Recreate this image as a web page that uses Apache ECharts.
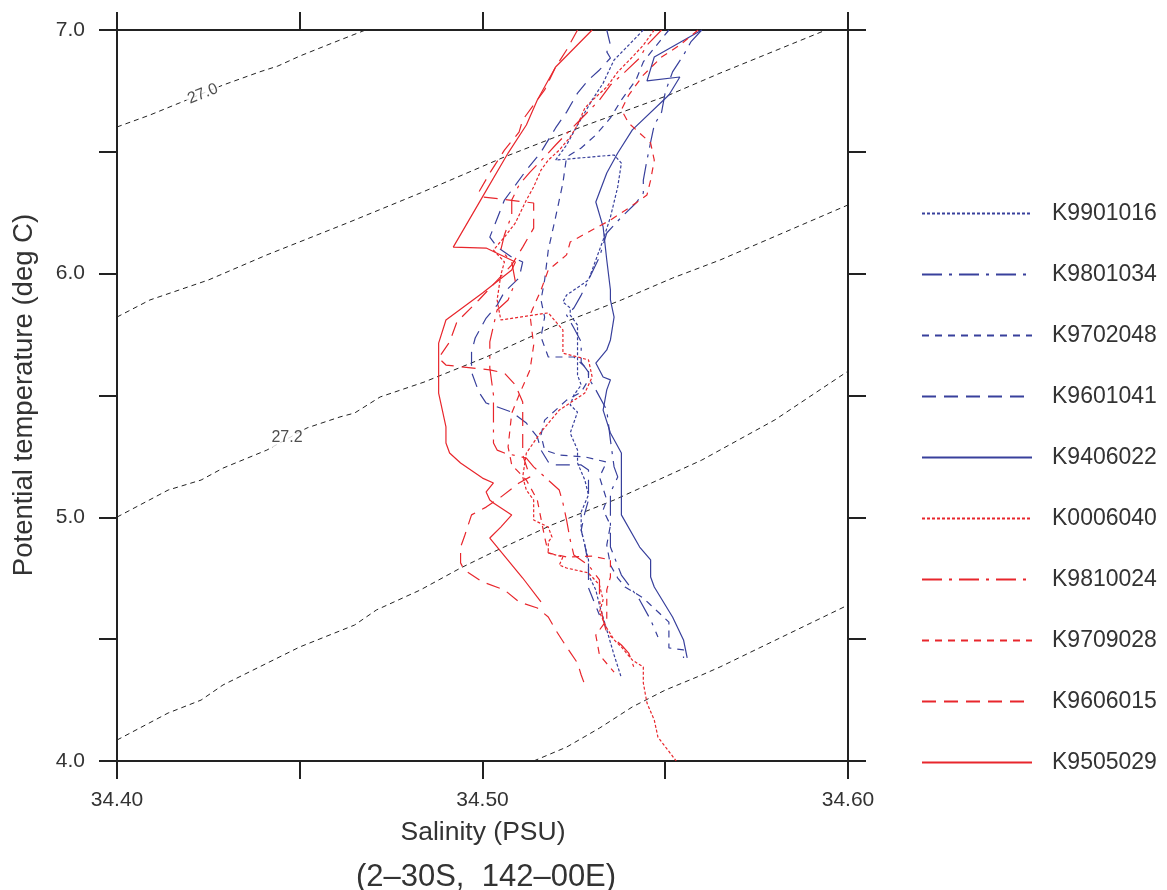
<!DOCTYPE html>
<html><head><meta charset="utf-8">
<script src="https://cdn.jsdelivr.net/npm/echarts@6/dist/echarts.min.js"></script>
<style>html,body{margin:0;padding:0;background:#fff}#c{width:1167px;height:890px}</style>
</head><body><div id="c"></div>
<script>
// ---- data: salinity (PSU), potential temperature (deg C) ----
const stationNames = ['K9901016','K9801034','K9702048','K9601041','K9406022','K0006040','K9810024','K9709028','K9606015','K9505029'];

const k9901016 = [[34.544,7.000],[34.540,6.938],[34.536,6.877],[34.533,6.782],[34.530,6.713],[34.526,6.610],[34.523,6.528],[34.520,6.466],[34.536,6.487],[34.538,6.454],[34.537,6.356],[34.535,6.232],[34.533,6.138],[34.531,6.056],[34.529,5.974],[34.523,5.912],[34.522,5.884],[34.524,5.859],[34.524,5.830],[34.526,5.789],[34.526,5.736],[34.526,5.666],[34.526,5.584],[34.527,5.543],[34.525,5.502],[34.524,5.461],[34.526,5.432],[34.524,5.346],[34.526,5.276],[34.526,5.223],[34.528,5.153],[34.529,5.092],[34.527,5.022],[34.527,4.948],[34.528,4.886],[34.529,4.825],[34.529,4.763],[34.531,4.702],[34.532,4.640],[34.534,4.538],[34.536,4.435],[34.538,4.341]];
const k9801034 = [[34.560,7.000],[34.557,6.951],[34.555,6.897],[34.552,6.828],[34.550,6.745],[34.549,6.663],[34.547,6.610],[34.546,6.540],[34.545,6.466],[34.544,6.384],[34.544,6.331],[34.542,6.290],[34.538,6.232],[34.534,6.167],[34.532,6.068],[34.529,5.974],[34.527,5.912],[34.525,5.859],[34.523,5.830],[34.525,5.777],[34.527,5.720],[34.527,5.637],[34.529,5.596],[34.529,5.572],[34.531,5.523],[34.534,5.440],[34.535,5.317],[34.536,5.207],[34.537,5.166],[34.535,5.100],[34.535,5.010],[34.535,4.878],[34.538,4.763],[34.541,4.702],[34.543,4.661],[34.546,4.579],[34.548,4.509]];
const k9702048 = [[34.551,7.000],[34.547,6.926],[34.544,6.869],[34.542,6.795],[34.538,6.713],[34.535,6.639],[34.531,6.569],[34.527,6.516],[34.523,6.479],[34.522,6.372],[34.520,6.232],[34.518,6.097],[34.517,5.974],[34.516,5.892],[34.517,5.822],[34.516,5.740],[34.518,5.658],[34.525,5.658],[34.529,5.605],[34.529,5.564],[34.527,5.514],[34.523,5.481],[34.520,5.440],[34.517,5.399],[34.516,5.338],[34.517,5.276],[34.521,5.256],[34.528,5.248],[34.534,5.227],[34.532,5.166],[34.534,5.071],[34.533,5.030],[34.535,4.968],[34.534,4.886],[34.535,4.804],[34.537,4.751],[34.539,4.714],[34.544,4.669],[34.546,4.640],[34.551,4.570],[34.551,4.464],[34.555,4.456],[34.555,4.423]];
const k9601041 = [[34.534,7.000],[34.535,6.938],[34.534,6.910],[34.535,6.885],[34.532,6.836],[34.529,6.795],[34.526,6.741],[34.523,6.663],[34.520,6.598],[34.516,6.499],[34.512,6.425],[34.506,6.302],[34.502,6.150],[34.504,6.109],[34.508,6.068],[34.511,6.048],[34.510,5.982],[34.506,5.925],[34.504,5.871],[34.501,5.818],[34.498,5.736],[34.497,5.678],[34.497,5.596],[34.499,5.514],[34.501,5.469],[34.508,5.432],[34.512,5.387],[34.515,5.330],[34.516,5.276],[34.518,5.227],[34.519,5.215],[34.527,5.215],[34.529,5.194],[34.529,5.071],[34.528,5.018],[34.527,4.948],[34.528,4.886],[34.529,4.804],[34.529,4.710],[34.532,4.599]];
const k9406022 = [[34.560,7.000],[34.547,6.889],[34.545,6.791],[34.554,6.807],[34.551,6.733],[34.541,6.590],[34.537,6.495],[34.534,6.413],[34.531,6.294],[34.533,6.192],[34.534,6.056],[34.535,5.933],[34.535,5.892],[34.536,5.822],[34.535,5.728],[34.534,5.687],[34.531,5.633],[34.533,5.576],[34.535,5.564],[34.534,5.523],[34.533,5.440],[34.535,5.346],[34.538,5.264],[34.538,5.083],[34.538,5.010],[34.543,4.878],[34.546,4.825],[34.546,4.755],[34.547,4.714],[34.552,4.591],[34.555,4.497],[34.556,4.423]];
const k0006040 = [[34.547,7.000],[34.544,6.938],[34.541,6.889],[34.537,6.828],[34.534,6.766],[34.531,6.725],[34.528,6.680],[34.526,6.610],[34.524,6.561],[34.521,6.507],[34.518,6.466],[34.516,6.425],[34.514,6.356],[34.512,6.302],[34.509,6.208],[34.506,6.150],[34.503,6.097],[34.506,6.048],[34.505,5.994],[34.504,5.892],[34.505,5.810],[34.518,5.839],[34.522,5.769],[34.522,5.674],[34.529,5.646],[34.530,5.576],[34.528,5.510],[34.521,5.440],[34.516,5.350],[34.512,5.264],[34.511,5.166],[34.512,5.112],[34.514,5.071],[34.514,4.989],[34.518,4.960],[34.519,4.919],[34.518,4.899],[34.518,4.854],[34.522,4.837],[34.521,4.804],[34.523,4.792],[34.529,4.772],[34.532,4.722],[34.533,4.661],[34.532,4.611],[34.534,4.546],[34.536,4.497],[34.538,4.468],[34.541,4.414],[34.544,4.386],[34.544,4.320],[34.545,4.238],[34.547,4.168],[34.548,4.098],[34.553,4.000]];
const k9810024 = [[34.549,7.000],[34.545,6.938],[34.543,6.885],[34.539,6.828],[34.535,6.774],[34.532,6.713],[34.528,6.651],[34.524,6.590],[34.520,6.528],[34.517,6.479],[34.513,6.417],[34.510,6.364],[34.508,6.302],[34.508,6.241],[34.506,6.159],[34.505,6.097],[34.508,6.048],[34.509,5.966],[34.507,5.892],[34.504,5.851],[34.502,5.720],[34.502,5.613],[34.503,5.502],[34.503,5.453],[34.503,5.305],[34.504,5.276],[34.506,5.264],[34.512,5.243],[34.514,5.207],[34.521,5.112],[34.522,5.059],[34.523,4.989],[34.524,4.907],[34.525,4.845],[34.529,4.804],[34.532,4.743],[34.532,4.661],[34.533,4.579],[34.534,4.525],[34.538,4.476],[34.540,4.443],[34.541,4.402],[34.542,4.361]];
const k9709028 = [[34.559,7.000],[34.554,6.938],[34.549,6.889],[34.544,6.815],[34.540,6.733],[34.538,6.672],[34.540,6.618],[34.546,6.536],[34.547,6.466],[34.546,6.384],[34.545,6.323],[34.540,6.269],[34.535,6.220],[34.529,6.171],[34.524,6.130],[34.523,6.077],[34.518,6.015],[34.516,5.933],[34.513,5.830],[34.514,5.707],[34.513,5.605],[34.510,5.502],[34.508,5.428],[34.507,5.289],[34.508,5.215],[34.512,5.153],[34.515,5.071],[34.517,4.919],[34.518,4.854],[34.523,4.837],[34.530,4.841],[34.535,4.825],[34.535,4.755],[34.534,4.702],[34.534,4.640],[34.534,4.579],[34.531,4.517],[34.532,4.435],[34.536,4.365]];
const k9606015 = [[34.526,7.000],[34.523,6.918],[34.520,6.848],[34.517,6.754],[34.511,6.631],[34.510,6.581],[34.506,6.507],[34.502,6.413],[34.499,6.335],[34.500,6.315],[34.514,6.290],[34.514,6.187],[34.511,6.109],[34.508,6.036],[34.499,5.892],[34.493,5.802],[34.491,5.720],[34.488,5.654],[34.490,5.625],[34.502,5.605],[34.506,5.592],[34.509,5.543],[34.511,5.473],[34.511,5.358],[34.511,5.256],[34.513,5.166],[34.510,5.141],[34.505,5.083],[34.501,5.042],[34.497,5.010],[34.495,4.919],[34.494,4.878],[34.494,4.813],[34.495,4.784],[34.500,4.735],[34.506,4.702],[34.510,4.653],[34.515,4.628],[34.518,4.591],[34.520,4.538],[34.523,4.468],[34.526,4.402],[34.527,4.353],[34.528,4.312]];
const k9505029 = [[34.530,7.000],[34.520,6.848],[34.515,6.713],[34.512,6.610],[34.507,6.495],[34.500,6.315],[34.492,6.109],[34.501,6.105],[34.509,6.048],[34.508,6.015],[34.500,5.921],[34.490,5.810],[34.488,5.715],[34.488,5.646],[34.488,5.510],[34.490,5.371],[34.490,5.305],[34.491,5.264],[34.494,5.223],[34.500,5.161],[34.503,5.141],[34.501,5.104],[34.502,5.071],[34.503,5.059],[34.508,5.010],[34.505,4.960],[34.502,4.915],[34.511,4.751],[34.516,4.653]];

// isopycnals (sigma-theta)
const iso270 = [[34.400,6.602],[34.409,6.651],[34.417,6.700],[34.429,6.774],[34.439,6.828],[34.444,6.852],[34.450,6.893],[34.459,6.947],[34.468,7.000]];
const iso271 = [[34.400,5.822],[34.409,5.892],[34.425,5.974],[34.441,6.077],[34.463,6.208],[34.483,6.331],[34.506,6.479],[34.527,6.602],[34.551,6.733],[34.565,6.823],[34.594,7.000]];
const iso272 = [[34.400,5.001],[34.414,5.112],[34.423,5.153],[34.429,5.202],[34.441,5.276],[34.452,5.367],[34.461,5.412],[34.465,5.428],[34.472,5.494],[34.484,5.555],[34.501,5.658],[34.519,5.781],[34.538,5.892],[34.552,5.982],[34.565,6.056],[34.600,6.282]];
const iso273 = [[34.400,4.086],[34.414,4.197],[34.423,4.250],[34.429,4.312],[34.450,4.468],[34.465,4.558],[34.471,4.620],[34.483,4.702],[34.494,4.792],[34.503,4.858],[34.519,4.969],[34.536,5.071],[34.560,5.235],[34.580,5.400],[34.600,5.600]];
const iso274 = [[34.514,4.000],[34.523,4.057],[34.532,4.135],[34.541,4.222],[34.550,4.291],[34.560,4.353],[34.565,4.386],[34.600,4.640]];
const contourLabels = [[34.4235,6.738,'27.0'],[34.4465,5.326,'27.2']];

const xTicks = [34.40, 34.50, 34.60];
const yTicks = [4.0, 5.0, 6.0, 7.0];

// ---- styles ----
const BLUE = '#38409c', RED = '#e8262c', INK = '#222', TXT = '#333';
const FONT = "'Liberation Sans', Arial, sans-serif";
const DOT = [3, 2], DASHDOT = [20, 7, 3, 7], DASH = [7, 6], LONG = [14, 8];
const profiles = [
  [k9901016, BLUE, DOT], [k9801034, BLUE, DASHDOT], [k9702048, BLUE, DASH], [k9601041, BLUE, LONG], [k9406022, BLUE, 'solid'],
  [k0006040, RED, DOT], [k9810024, RED, DASHDOT], [k9709028, RED, DASH], [k9606015, RED, LONG], [k9505029, RED, 'solid']
];

const series = [];
[iso270, iso271, iso272, iso273, iso274].forEach(function (d) {
  series.push({ type: 'line', data: d, symbol: 'none', silent: true, z: 1,
    lineStyle: { color: INK, width: 1, type: [5, 4] } });
});
series.push({ type: 'scatter', data: contourLabels.map(function (c, i) {
    return { value: c, label: { rotate: i === 0 ? 22 : 0 } };
  }), symbolSize: 0, silent: true, z: 5,
  label: { show: true, position: 'inside', formatter: function (p) { return p.value[2]; },
    fontSize: 16, color: INK, fontFamily: FONT, backgroundColor: '#fff', padding: [1, 2] } });
profiles.forEach(function (p, i) {
  series.push({ name: stationNames[i], type: 'line', data: p[0], symbol: 'none', z: 3,
    lineStyle: { color: p[1], width: 1.2, type: p[2] }, itemStyle: { color: p[1] } });
});

function axisCommon() {
  return { axisLine: { show: true, onZero: false, lineStyle: { color: INK, width: 2 } },
    axisTick: { show: true, inside: false, length: 18, lineStyle: { color: INK, width: 2 } },
    splitLine: { show: false } };
}
const near = function (v, arr) { return arr.some(function (t) { return Math.abs(t - v) < 1e-6; }); };

const chart = echarts.init(document.getElementById('c'));
chart.setOption({
  animation: false,
  backgroundColor: '#fff',
  grid: { left: 117, top: 30, width: 731, height: 731, containLabel: false },
  xAxis: [
    Object.assign(axisCommon(), { type: 'value', position: 'bottom', min: 34.4, max: 34.6, interval: 0.05,
      axisLabel: { show: true, margin: 29, fontSize: 21, color: TXT, fontFamily: FONT,
        formatter: function (v) { return near(v, xTicks) ? v.toFixed(2) : ''; } } }),
    Object.assign(axisCommon(), { type: 'value', position: 'top', min: 34.4, max: 34.6, interval: 0.05,
      axisLabel: { show: false } })
  ],
  yAxis: [
    Object.assign(axisCommon(), { type: 'value', position: 'left', min: 4, max: 7, interval: 0.5,
      axisLabel: { show: true, margin: 32, fontSize: 21, color: TXT, fontFamily: FONT,
        formatter: function (v) { return near(v, yTicks) ? v.toFixed(1) : ''; } } }),
    Object.assign(axisCommon(), { type: 'value', position: 'right', min: 4, max: 7, interval: 0.5,
      axisLabel: { show: false } })
  ],
  legend: { orient: 'vertical', left: 916, top: 197, data: stationNames, itemWidth: 110, itemHeight: 14,
    itemGap: 38, selectedMode: false, itemStyle: { opacity: 0 },
    textStyle: { fontSize: 23, color: TXT, fontFamily: FONT, padding: [0, 0, 0, 15] } },
  graphic: [
    { type: 'text', x: 483, y: 833, style: { text: 'Salinity (PSU)', fontSize: 26.5, fill: TXT, fontFamily: FONT, align: 'center', verticalAlign: 'middle' } },
    { type: 'text', x: 486, y: 877, style: { text: '(2–30S,  142–00E)', fontSize: 31, fill: TXT, fontFamily: FONT, align: 'center', verticalAlign: 'middle' } },
    { type: 'text', x: 24, y: 395, rotation: Math.PI / 2, style: { text: 'Potential temperature (deg C)', fontSize: 27.5, fill: TXT, fontFamily: FONT, align: 'center', verticalAlign: 'middle' } }
  ],
  series: series
});
</script></body></html>
